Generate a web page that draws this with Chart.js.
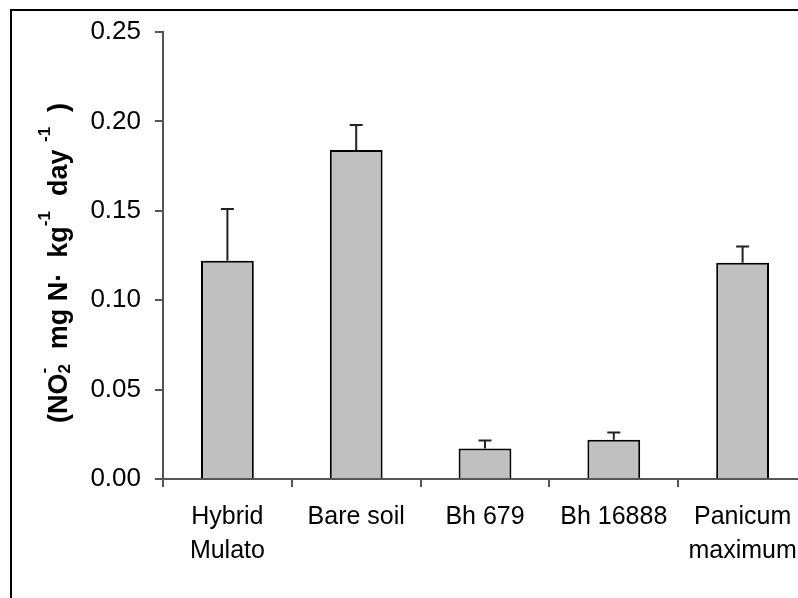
<!DOCTYPE html>
<html>
<head>
<meta charset="utf-8">
<script src="https://cdn.jsdelivr.net/npm/chart.js@4.4.1/dist/chart.umd.min.js"></script>
<style>
    html, body { margin: 0; padding: 0; background: #fff; overflow: hidden; }
    #wrap { width: 798px; height: 598px; overflow: hidden; position: relative; }
    #chart { position: absolute; left: 0; top: 0; }
</style>
</head>
<body>
<div id="wrap"><canvas id="chart" width="830" height="598"></canvas></div>
<script>
    // Data
    const categories = [['Hybrid', 'Mulato'], 'Bare soil', 'Bh 679', 'Bh 16888', ['Panicum', 'maximum']];
    const means = [0.122, 0.184, 0.017, 0.022, 0.121];
    const errors = [0.029, 0.014, 0.0045, 0.004, 0.009];
    const yTicks = [0, 0.05, 0.10, 0.15, 0.20, 0.25];

    const FONT = "'Liberation Sans', Arial, sans-serif";
    const AXIS_COLOR = '#555';

    // Frame around the figure (left and top edges visible)
    const framePlugin = {
        id: 'frame',
        beforeDraw(chart) {
            const ctx = chart.ctx;
            ctx.save();
            ctx.strokeStyle = '#000';
            ctx.lineWidth = 2;
            ctx.beginPath();
            ctx.moveTo(11, chart.height);
            ctx.lineTo(11, 10);
            ctx.lineTo(chart.width, 10);
            ctx.stroke();
            ctx.restore();
        }
    };

    // Upper error bars only
    const errorBarPlugin = {
        id: 'errorBars',
        afterDatasetsDraw(chart) {
            const ctx = chart.ctx;
            const yScale = chart.scales.y;
            const meta = chart.getDatasetMeta(0);
            ctx.save();
            ctx.strokeStyle = '#222';
            ctx.lineWidth = 2;
            meta.data.forEach((bar, i) => {
                const top = yScale.getPixelForValue(means[i] + errors[i]);
                ctx.beginPath();
                ctx.moveTo(bar.x, bar.y);
                ctx.lineTo(bar.x, top);
                ctx.moveTo(bar.x - 6.5, top);
                ctx.lineTo(bar.x + 6.5, top);
                ctx.stroke();
            });
            ctx.restore();
        }
    };

    // Y axis title with sub/superscripts
    const yTitlePlugin = {
        id: 'yTitle',
        afterDraw(chart) {
            const ctx = chart.ctx;
            const big = 27, small = 17;
            const parts = [
                { t: '(NO', s: big, dy: 0 },
                { stack: [{ t: '2', s: small, dy: 3 }, { t: '-', s: small, dy: -18 }] },
                { t: '  mg N\u00b7  kg', s: big, dy: 0 },
                { t: '-1', s: small, dy: -17 },
                { t: '  day ', s: big, dy: 0 },
                { t: '-1', s: small, dy: -17 },
                { t: '  )', s: big, dy: 0 }
            ];
            const font = s => 'bold ' + s + 'px ' + FONT;
            let total = 0;
            parts.forEach(p => {
                if (p.stack) {
                    p.w = Math.max(...p.stack.map(q => { ctx.font = font(q.s); return ctx.measureText(q.t).width; }));
                } else {
                    ctx.font = font(p.s);
                    p.w = ctx.measureText(p.t).width;
                }
                total += p.w;
            });
            ctx.save();
            ctx.translate(67, 263);
            ctx.rotate(-Math.PI / 2);
            ctx.fillStyle = '#000';
            ctx.textBaseline = 'alphabetic';
            ctx.textAlign = 'left';
            let x = -total / 2;
            parts.forEach(p => {
                const items = p.stack ? p.stack : [p];
                items.forEach(q => {
                    ctx.font = font(q.s);
                    ctx.fillText(q.t, x, q.dy);
                });
                x += p.w;
            });
            ctx.restore();
        }
    };

    new Chart(document.getElementById('chart'), {
        type: 'bar',
        data: {
            labels: categories,
            datasets: [{
                data: means,
                backgroundColor: '#c0c0c0',
                borderColor: '#000',
                borderWidth: 2,
                barPercentage: 0.41,
                categoryPercentage: 1
            }]
        },
        options: {
            responsive: false,
            animation: false,
            layout: { padding: { top: 32, right: 23, left: 0, bottom: 0 } },
            plugins: {
                legend: { display: false },
                tooltip: { enabled: false }
            },
            scales: {
                x: {
                    offset: true,
                    border: { display: true, color: AXIS_COLOR, width: 2 },
                    grid: { display: true, offset: true, drawOnChartArea: false, drawTicks: true, tickLength: 8, color: AXIS_COLOR, lineWidth: 2 },
                    ticks: { color: '#000', font: { family: FONT, size: 25, lineHeight: 1.35 }, padding: 13, maxRotation: 0, autoSkip: false },
                    afterFit(scale) { scale.height = 119; }
                },
                y: {
                    min: 0,
                    max: 0.25,
                    border: { display: true, color: AXIS_COLOR, width: 2 },
                    grid: { display: true, drawOnChartArea: false, drawTicks: true, tickLength: 8, color: AXIS_COLOR, lineWidth: 2 },
                    afterBuildTicks(scale) { scale.ticks = yTicks.map(v => ({ value: v })); },
                    ticks: {
                        color: '#000',
                        font: { family: FONT, size: 26 },
                        padding: 14,
                        callback: v => v.toFixed(2)
                    },
                    afterFit(scale) { scale.width = 163; }
                }
            }
        },
        plugins: [framePlugin, errorBarPlugin, yTitlePlugin]
    });
</script>
</body>
</html>
